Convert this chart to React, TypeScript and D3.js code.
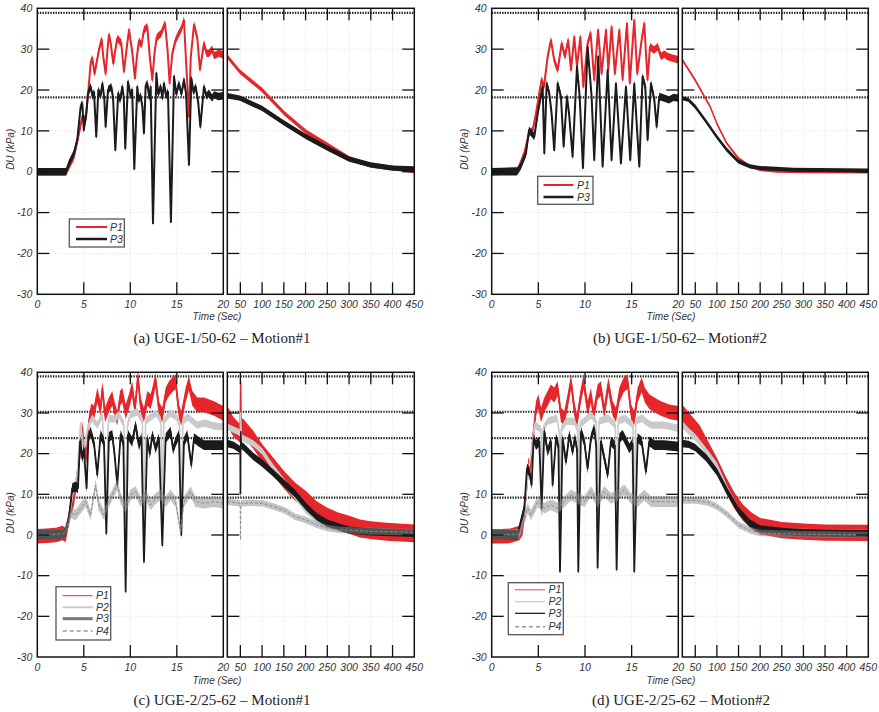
import React from "react";
import * as d3 from "d3";

type Pt = number[];

// ---------- axes / reference values ----------
const yTicks = [-30, -20, -10, 0, 10, 20, 30, 40];
const xTicksEarly = [0, 5, 10, 15, 20];
const xTicksLate = [50, 100, 150, 200, 250, 300, 350, 400, 450];
const refLinesAB = [38.9, 18.2];
const refLinesCD = [39.0, 30.3, 23.8, 9.2];

// ---------- (a) UGE-1/50-62 Motion#1 ----------
const a_P1_early: Pt[] = [[0,0],[3.1,0],[3.4,1.3],[3.94,3.7],[4.48,9.4],[4.84,13.5],[5.2,12.7],[5.56,21.7],[5.73,26.5],[5.91,27.8],[6.16,24],[6.4,27],[6.63,29.8],[6.92,32.4],[7.1,28],[7.35,24],[7.55,30],[7.71,33.5],[7.89,31.5],[8.17,26.5],[8.4,30],[8.6,32.6],[9.03,31.5],[9.32,24.5],[9.6,30],[9.86,34.7],[10.2,29.5],[10.5,22.9],[10.7,28],[10.93,32],[11.2,31],[11.47,34.7],[11.83,35.5],[12.1,28],[12.37,22.5],[12.6,29],[12.83,32.8],[13.33,33.9],[13.73,36.3],[14.0,30],[14.23,21.7],[14.52,29],[14.87,32.2],[15.23,33.9],[15.5,35],[15.77,37.1],[16.02,26],[16.31,13.5],[16.5,28],[16.85,36],[17.2,32.8],[17.49,25],[17.92,31.4],[18.2,29],[18.46,29],[18.8,30],[19,28.4],[19.53,29],[20,28.6]];
const a_P3_early: Pt[] = [[0,0],[3.1,0],[3.4,2],[3.94,4.5],[4.3,7.8],[4.66,15.9],[4.84,16.7],[5.0,10.2],[5.27,14.3],[5.45,19.2],[5.73,20.8],[5.95,18.4],[6.1,19.5],[6.34,8.6],[6.56,20],[6.8,18.5],[7.0,21.6],[7.2,18],[7.35,11],[7.6,20],[7.96,20.8],[8.15,18],[8.39,5.3],[8.7,19.2],[8.9,17.5],[9.14,20.8],[9.3,18],[9.46,5.7],[9.75,22],[10.04,18.6],[10.2,20],[10.43,0.7],[10.75,20.8],[10.9,17.5],[11.1,18.6],[11.3,16],[11.47,9.4],[11.65,21],[11.83,21.6],[12.05,18],[12.19,20.8],[12.44,-12.6],[12.8,24.1],[13.0,19],[13.26,20.8],[13.45,18],[13.62,21.6],[13.85,18.5],[14.05,19.6],[14.37,-12.3],[14.7,23.3],[14.95,19],[15.23,21.6],[15.5,19],[15.77,22.5],[16.0,19],[16.31,1.7],[16.56,22.9],[16.8,19.5],[17.03,20.8],[17.3,17],[17.53,11],[17.92,20.8],[18.2,18.5],[18.46,19.2],[18.8,18],[19,18.8],[19.5,18.4],[20,18.6]];
const a_P1_late: Pt[] = [[20,28.2],[49,24.5],[100,20],[151,14.3],[201,9.8],[250,6.6],[300,3.3],[350,1.5],[400,0.9],[450,0.2]];
const a_P3_late: Pt[] = [[20,18.6],[49,18],[100,15.5],[151,11.9],[201,8.6],[250,5.8],[300,3.1],[350,1.7],[400,0.9],[450,0.7]];

// ---------- (b) UGE-1/50-62 Motion#2 ----------
const b_P1_early: Pt[] = [[0,0],[2.8,0.3],[3.5,4.5],[4.0,9.4],[4.4,10.2],[4.75,14.3],[5.1,19.2],[5.35,22.5],[5.6,20.8],[6.0,28.2],[6.35,32.2],[6.7,27.3],[7.07,24.9],[7.5,31.4],[7.85,28.2],[8.2,32.2],[8.5,24.9],[8.85,33],[9.14,25.7],[9.5,33],[9.82,20.8],[10.28,31.4],[10.6,33.9],[10.99,22.5],[11.4,34.7],[11.78,24],[12.25,34.7],[12.5,24.9],[12.85,35.5],[13.2,24],[13.68,34.7],[14.03,22.5],[14.5,36.3],[14.8,21.7],[15.28,37.1],[15.6,24],[16.07,32.2],[16.35,36.3],[16.7,22.5],[16.97,30.6],[17.4,29.8],[17.8,30.6],[18.14,28.2],[18.5,28.8],[18.85,28.2],[19.4,27.8],[20,27.4]];
const b_P3_early: Pt[] = [[0,0],[2.7,0],[3.1,1.3],[3.67,4.5],[4.0,10.2],[4.28,9.4],[4.57,8.6],[4.93,14.3],[5.2,17.6],[5.46,20.8],[5.64,4.5],[5.89,21.6],[6.17,19.2],[6.42,14.3],[6.7,5.3],[7.07,21.6],[7.42,18.4],[7.71,6.2],[8.07,18.4],[8.3,14],[8.67,3.7],[9.14,25.7],[9.43,18.4],[9.78,0.9],[10.28,30.6],[10.71,18.4],[10.99,2.9],[11.42,28.2],[11.89,1.3],[12.43,24.9],[12.85,2.9],[13.32,21.6],[13.85,2.1],[14.39,20.8],[14.85,2.9],[15.28,21.6],[15.82,1.3],[16.17,23.3],[16.46,20.8],[16.71,7.8],[17.07,21.6],[17.43,17.6],[17.68,11],[17.96,18.4],[18.5,18],[19,17.6],[19.5,18.2],[20,18]];
const b_P1_late: Pt[] = [[20,27.4],[49.3,22.5],[84,16],[99.4,11.9],[122.5,7],[149.5,3.3],[176.4,1.3],[199.5,0.5],[238,0.1],[315,0],[450,-0.1]];
const b_P3_late: Pt[] = [[20,18],[33.9,17.6],[49.3,16],[72.4,12.7],[99.4,8.6],[122.5,5.4],[149.5,2.5],[176.4,1.3],[199.5,0.9],[276.6,0.5],[450,0.3]];

// ---------- (c) UGE-2/25-62 Motion#1 ----------
const c_P1_early: Pt[] = [[0,-0.3],[1,-0.2],[2,0],[2.7,0.5],[3.05,0],[3.6,6.6],[3.94,9],[4.3,14.8],[4.6,20.5],[4.84,26.2],[5.0,21.5],[5.3,19.5],[5.56,27.9],[5.8,30.5],[6.1,30],[6.45,34.4],[6.8,31],[7.0,36],[7.28,29.5],[7.7,32],[8.06,33.6],[8.3,31],[8.6,28.7],[8.9,33.6],[9.14,34.4],[9.5,30.3],[9.86,32.8],[10.2,36],[10.5,31],[10.82,38.9],[11.1,32],[11.47,29.5],[11.83,33.6],[12.19,32.8],[12.37,34.4],[12.72,38.1],[13.08,31],[13.44,29.5],[13.8,34.4],[14.16,36],[14.5,36.9],[14.87,37.7],[15.23,30.3],[15.48,28.7],[15.95,34.4],[16.3,37.3],[16.67,33.6],[17.2,32],[17.92,32],[19,31.1],[20,29.9]];
const c_P2_early: Pt[] = [[0,0],[2.8,0.5],[3.4,4],[3.8,10],[4.3,15],[4.66,27.5],[5.0,20.5],[5.4,26.2],[5.9,28.7],[6.45,27],[7.0,29.5],[7.2,20],[7.42,5],[7.6,26],[7.7,28.7],[8.24,28.5],[8.78,29.5],[9.32,27.2],[9.5,3],[9.7,27],[10.0,29.5],[10.75,30.3],[11.3,28],[11.47,2],[11.65,28],[12.2,29],[12.8,30],[13.3,28],[13.44,3],[13.6,28],[14.3,30],[15.0,29],[15.3,27],[15.48,4],[15.65,28],[16.2,29],[17.2,27],[18,27.5],[19,26.8],[20,26.6]];
const c_P3_early: Pt[] = [[0,0],[2.7,0.2],[3.05,0.8],[3.4,4.1],[3.76,11.5],[4.1,11.9],[4.37,11.5],[4.6,23],[4.84,18.9],[5.0,21.3],[5.3,11.5],[5.5,23.8],[5.73,25.4],[6.1,22.5],[6.45,14.8],[6.8,24.6],[7.17,22.9],[7.42,0.4],[7.7,24.1],[8.06,24.6],[8.3,20],[8.6,12.3],[8.96,24.6],[9.25,22.9],[9.5,-13.9],[9.75,24.6],[10.2,22.9],[10.57,27],[10.93,22],[11.2,24],[11.47,-6.6],[11.83,23.8],[12.1,20],[12.37,24.6],[12.72,21.3],[13.08,23.8],[13.44,-2.5],[13.8,23.8],[14.34,25.4],[14.6,21],[14.87,22.9],[15.23,24.6],[15.48,0],[15.77,22.9],[16.13,24.6],[16.56,17.2],[16.85,23.8],[17.38,22.9],[17.92,22.1],[19,22.1],[20,22.1]];
const c_P4_early: Pt[] = [[0,0],[2.8,0.3],[3.2,1.5],[3.6,5.5],[4.1,4.9],[4.66,6.6],[5.2,8.2],[5.73,4.9],[6.27,12.3],[6.6,7.4],[7.17,4.9],[7.7,8.2],[8.24,10.7],[8.6,12.3],[8.96,9],[9.5,6.6],[10.0,9.8],[10.57,10.7],[11.1,8.2],[11.65,9.8],[12.19,7.4],[12.72,9],[13.26,9.8],[13.8,8.2],[14.34,9.8],[14.87,8.2],[15.41,0.8],[15.77,8.2],[16.49,10.7],[17.0,8.2],[17.92,7.8],[19,8.2],[20,7.8]];
const c_P1_late: Pt[] = [[20,29.3,2.5],[33.8,26.6,2.4],[45.3,25.4,2.3],[49.5,25,2.3],[50.7,37.7,0.8],[52,26.5,2.3],[56.8,26.2,2.3],[79.8,23.4,2.2],[100.5,20.1,2.2],[125.8,16.8,2.2],[151,13.5,2.2],[175.6,10.7,2.2],[200.9,8.6,2.2],[225.4,6.1,2.2],[250,4.5,2.2],[275.2,3.3,2.2],[300.5,2.5,2.2],[325,1.6,2.2],[349.6,1.2,2.2],[386.4,0.8,2.2],[450,0.4,2.2]];
const c_P2_late: Pt[] = [[20,26.6],[45,25.4],[49.5,25],[50.7,30],[52,24],[79.8,22.5],[100.5,20.5],[125.8,16.5],[151,13],[175.6,9.5],[200.9,6.1],[225.4,3.8],[250,2.4],[300,1.2],[450,0.4]];
const c_P3_late: Pt[] = [[20,22.5],[33.8,22.1],[45.3,21.3],[49.5,21],[50,10.2],[50.5,10.2],[50.9,25.4],[52,22],[56.8,21.7],[79.8,19.3],[100.5,17.6],[125.8,15.2],[151,12.7],[175.6,10.2],[200.9,7],[225.4,4.5],[250,2.9],[275,2],[300.5,1.2],[349.6,0.8],[450,0.4]];
const c_P4_late: Pt[] = [[20,8.2],[49.5,7.8],[50.5,-1.2],[51.5,7.8],[79.8,7.9],[100.5,7.8],[125.8,7],[151,6.1],[175.6,4.5],[200.9,3.7],[225.4,2.5],[250,1.7],[275,1.3],[349.6,0.9],[450,0.7]];

// ---------- (d) UGE-2/25-62 Motion#2 ----------
const d_P1_early: Pt[] = [[0,-0.3],[1,-0.3],[2,-0.2],[2.96,0.5],[3.3,1.6],[3.67,9.8],[3.93,17.2],[4.14,16.4],[4.39,23],[4.75,31.1],[5.0,32.8],[5.28,29.5],[5.64,32],[6.0,33.6],[6.35,35.2],[6.7,34.4],[7.07,36],[7.42,29.5],[7.78,28.7],[8.14,32.8],[8.5,37.7],[8.85,31.1],[9.14,27.9],[9.5,33.6],[9.85,37.7],[10.28,31.1],[10.64,34.4],[10.92,29.5],[11.35,35.2],[11.7,36],[12.07,30.3],[12.5,36.9],[12.96,31.1],[13.32,29.5],[13.68,34.4],[14.14,36.9],[14.57,37.7],[14.93,30.3],[15.28,28.7],[15.64,34.4],[16.07,36.9],[16.42,34.4],[16.89,32.8],[17.43,32],[18.14,31.1],[19.03,30.3],[20,29.9]];
const d_P2_early: Pt[] = [[0,0],[3,0.5],[3.5,6],[3.9,15],[4.39,23],[4.6,27],[5.28,26],[5.35,5],[5.5,26],[6.0,28],[7.0,28.7],[7.25,25],[7.32,5],[7.45,26],[8.0,28],[8.85,27.9],[9.2,26],[9.28,5],[9.4,27],[10.64,29.5],[11.2,28],[11.35,5],[11.5,28],[12.5,28.7],[13.25,27],[13.39,5],[13.55,28],[14.3,28.7],[15.15,27],[15.28,5],[15.45,28],[16.07,28.7],[17.07,27],[18.5,27],[20,26.2]];
const d_P3_early: Pt[] = [[0,0],[2.8,0],[3.14,3.3],[3.5,6.6],[3.78,16.4],[4.03,15.6],[4.28,12.3],[4.5,23.8],[4.75,22.1],[5.1,23],[5.35,6.6],[5.64,25.4],[6.0,20.5],[6.35,23],[6.53,12.3],[6.89,23.8],[7.15,22],[7.32,-9],[7.6,23.8],[7.96,18],[8.32,24.6],[8.67,20.5],[8.92,23.8],[9.15,21],[9.28,-9],[9.57,25.4],[9.92,23],[10.28,16.4],[10.64,23.8],[10.99,26.2],[11.2,22],[11.35,-8],[11.7,23],[12.07,18.9],[12.43,14.8],[12.78,23],[13.2,22],[13.39,-8.5],[13.68,23.8],[14.03,24.6],[14.39,23],[14.75,21.3],[15.1,22.5],[15.28,-9],[15.64,23.8],[16.07,23],[16.53,15.6],[16.89,23],[17.43,22.1],[18.5,22.1],[20,21.7]];
const d_P4_early: Pt[] = [[0,0],[3,0.2],[3.3,2.5],[3.85,6.6],[4.21,4.9],[4.93,8.2],[5.64,6.6],[6.35,7.4],[7.07,6.6],[7.78,8.2],[8.5,9.8],[9.21,9],[9.92,8.2],[10.64,10.7],[11.35,8.2],[12.07,10.7],[12.78,9],[13.5,9.8],[14.21,11.1],[14.93,9],[15.64,8.2],[16.35,9.8],[17.07,8.2],[18.5,8.2],[20,8.2]];
const d_P1_late: Pt[] = [[20,30],[40,27.5],[60,25],[80,21],[100,17],[120,12.5],[140,8.5],[160,5.5],[180,3.5],[200,2.2],[250,1.2],[300,0.8],[350,0.6],[450,0.5]];
const d_P2_late: Pt[] = [[20,27],[50,24],[80,20],[100,17],[125,11],[150,6],[175,3],[200,1.5],[250,0.8],[450,0.5]];
const d_P3_late: Pt[] = [[20,22.5],[35,22.3],[50,21.5],[75,19],[100,15.5],[125,10.5],[150,6],[175,3],[200,1.5],[250,0.9],[300,0.6],[450,0.3]];
const d_P4_late: Pt[] = [[20,8.5],[50,8.5],[80,8],[100,7],[125,5],[150,2.5],[175,1.2],[200,0.5],[300,0.2],[450,0]];

// ---------- styling ----------
const RED = "#e5262b";
const BLACK = "#1b1b1b";
const LGREY = "#cacaca";
const DGREY = "#8a8a8a";
const FONT = "'Liberation Sans', Arial, sans-serif";

interface S { pts: Pt[]; color: string; w: number; s: number; dash?: string; op?: number; }
interface LegendItem { label: string; color: string; w: number; dash?: string; }
interface Cfg {
  id: string; L: number[]; R: number[]; top: number; bot: number;
  early: S[]; late: S[]; refs: number[];
  legend: { x: number; y: number; w: number; h: number; lx0: number; lx1: number; tx: number; ys: number[]; items: LegendItem[] };
  caption: string; capX: number; capY: number; duX: number; timeX: number; timeY: number; labY: number;
}

function Series({ ser, x, y, clip }: { ser: S; x: any; y: any; clip: string }) {
  const area = d3.area<Pt>().x(d => x(d[0])).y0(d => y(d[1] - (d[2] ?? ser.s))).y1(d => y(d[1] + (d[2] ?? ser.s)));
  const line = d3.line<Pt>().x(d => x(d[0])).y(d => y(d[1]));
  return (
    <g clipPath={`url(#${clip})`}>
      <path d={area(ser.pts) || ""} fill={ser.color} opacity={ser.op ?? 1} />
      <path d={line(ser.pts) || ""} fill="none" stroke={ser.color} strokeWidth={ser.w} strokeDasharray={ser.dash} strokeLinejoin="round" />
    </g>
  );
}

function Panel({ c }: { c: Cfg }) {
  const y = d3.scaleLinear().domain([-30, 40]).range([c.bot, c.top]);
  const xe = d3.scaleLinear().domain([0, 20]).range([c.L[0], c.L[1]]);
  const xl = d3.scaleLinear().domain([20, 450]).range([c.R[0], c.R[1]]);
  const TL = 12;
  const inner = yTicks.filter(v => v > -30 && v < 40);
  const sub = (x: any, x0: number, x1: number, ticks: number[], clip: string, series: S[]) => (
    <g>
      <defs>
        <clipPath id={clip}><rect x={x0} y={c.top} width={x1 - x0} height={c.bot - c.top} /></clipPath>
      </defs>
      {ticks.filter(t => x(t) > x0 + 1 && x(t) < x1 - 1).map(t => (
        <line key={"gv" + t} x1={x(t)} x2={x(t)} y1={c.top} y2={c.bot} stroke="#d4d4d4" strokeWidth={0.8} strokeDasharray="1,2" />
      ))}
      {inner.map(v => (
        <line key={"gh" + v} x1={x0} x2={x1} y1={y(v)} y2={y(v)} stroke="#d4d4d4" strokeWidth={0.8} strokeDasharray="1,2" />
      ))}
      {c.refs.map(v => (
        <line key={"r" + v} x1={x0} x2={x1} y1={y(v)} y2={y(v)} stroke="#222" strokeWidth={2.2} strokeDasharray="1.4,1.2" />
      ))}
      {series.map((s, i) => <Series key={i} ser={s} x={x} y={y} clip={clip} />)}
      {ticks.filter(t => x(t) > x0 + 1 && x(t) < x1 - 1).map(t => (
        <g key={"t" + t}>
          <line x1={x(t)} x2={x(t)} y1={c.bot} y2={c.bot - TL} stroke="#111" strokeWidth={1.3} />
          <line x1={x(t)} x2={x(t)} y1={c.top} y2={c.top + TL} stroke="#111" strokeWidth={1.3} />
        </g>
      ))}
      {inner.map(v => (
        <g key={"yt" + v}>
          <line x1={x0} x2={x0 + TL} y1={y(v)} y2={y(v)} stroke="#111" strokeWidth={1.3} />
          <line x1={x1} x2={x1 - TL} y1={y(v)} y2={y(v)} stroke="#111" strokeWidth={1.3} />
        </g>
      ))}
      <rect x={x0} y={c.top} width={x1 - x0} height={c.bot - c.top} fill="none" stroke="#111" strokeWidth={1.5} />
    </g>
  );
  const lg = c.legend;
  return (
    <g>
      {sub(xe, c.L[0], c.L[1], xTicksEarly, c.id + "e", c.early)}
      {sub(xl, c.R[0], c.R[1], xTicksLate, c.id + "l", c.late)}
      {yTicks.map(v => (
        <text key={"yl" + v} x={c.L[0] - 5} y={y(v)} dy="0.35em" textAnchor="end" fontSize={10.5} fontStyle="italic" fontFamily={FONT} fill="#333">{v}</text>
      ))}
      {xTicksEarly.map(t => (
        <text key={"xe" + t} x={xe(t)} y={c.labY} textAnchor="middle" fontSize={10.5} fontStyle="italic" fontFamily={FONT} fill="#333">{t}</text>
      ))}
      {xTicksLate.map(t => (
        <text key={"xl" + t} x={xl(t)} y={c.labY} textAnchor="middle" fontSize={10.5} fontStyle="italic" fontFamily={FONT} fill="#333">{t}</text>
      ))}
      <text x={c.timeX} y={c.timeY} textAnchor="middle" fontSize={10} fontStyle="italic" fontFamily={FONT} fill="#333">Time (Sec)</text>
      <text transform={`translate(${c.duX},${(c.top + c.bot) / 2 - 2}) rotate(-90)`} textAnchor="middle" fontSize={10} fontStyle="italic" fontFamily={FONT} fill="#333">DU (kPa)</text>
      <rect x={lg.x} y={lg.y} width={lg.w} height={lg.h} fill="#fff" stroke="#555" strokeWidth={1.3} />
      {lg.items.map((it, i) => (
        <g key={it.label}>
          <line x1={lg.lx0} x2={lg.lx1} y1={lg.ys[i]} y2={lg.ys[i]} stroke={it.color} strokeWidth={it.w} strokeDasharray={it.dash} />
          <text x={lg.tx} y={lg.ys[i]} dy="0.35em" fontSize={10.5} fontStyle="italic" fontFamily={FONT} fill="#333">{it.label}</text>
        </g>
      ))}
      <text x={c.capX} y={c.capY} textAnchor="middle" fontSize={15} fontFamily="'Liberation Serif', 'Times New Roman', serif" fill="#222">{c.caption}</text>
    </g>
  );
}

const cfgs: Cfg[] = [
  {
    id: "pa", L: [37.3, 223.3], R: [227.3, 414.3], top: 8.3, bot: 294.3, refs: refLinesAB,
    early: [
      { pts: a_P1_early, color: RED, w: 2, s: 0.9 },
      { pts: a_P3_early, color: BLACK, w: 2, s: 0.9 },
    ],
    late: [
      { pts: a_P1_late, color: RED, w: 1.5, s: 0.55 },
      { pts: a_P3_late, color: BLACK, w: 1.5, s: 0.65 },
    ],
    legend: { x: 69.3, y: 219, w: 55, h: 28, lx0: 76, lx1: 107, tx: 110, ys: [227, 239],
      items: [{ label: "P1", color: RED, w: 2 }, { label: "P3", color: BLACK, w: 2.5 }] },
    caption: "(a) UGE-1/50-62 – Motion#1", capX: 222, capY: 343, duX: 14, timeX: 217, timeY: 320, labY: 308,
  },
  {
    id: "pb", L: [491.7, 678.3], R: [682.3, 868.3], top: 8.3, bot: 294.3, refs: refLinesAB,
    early: [
      { pts: b_P1_early, color: RED, w: 2, s: 0.9 },
      { pts: b_P3_early, color: BLACK, w: 2, s: 0.9 },
    ],
    late: [
      { pts: b_P1_late, color: RED, w: 1.4, s: 0.35 },
      { pts: b_P3_late, color: BLACK, w: 1.4, s: 0.5 },
    ],
    legend: { x: 537.7, y: 176.3, w: 55.3, h: 28, lx0: 543.5, lx1: 573.5, tx: 577, ys: [185, 197],
      items: [{ label: "P1", color: RED, w: 2 }, { label: "P3", color: BLACK, w: 2.5 }] },
    caption: "(b) UGE-1/50-62– Motion#2", capX: 680, capY: 343, duX: 468, timeX: 671, timeY: 320, labY: 308,
  },
  {
    id: "pc", L: [37.3, 223.3], R: [227.3, 414.3], top: 372.3, bot: 657, refs: refLinesCD,
    early: [
      { pts: c_P1_early, color: RED, w: 1.8, s: 1.8 },
      { pts: c_P2_early, color: LGREY, w: 1.6, s: 0.9 },
      { pts: c_P3_early, color: BLACK, w: 1.8, s: 1.2 },
      { pts: c_P4_early, color: DGREY, w: 1, s: 1.3, dash: "3,2", op: 0.5 },
    ],
    late: [
      { pts: c_P1_late, color: RED, w: 1.5, s: 2.2 },
      { pts: c_P2_late, color: LGREY, w: 1.4, s: 0.8 },
      { pts: c_P3_late, color: BLACK, w: 1.5, s: 0.9 },
      { pts: c_P4_late, color: DGREY, w: 1, s: 0.8, dash: "3,2", op: 0.5 },
    ],
    legend: { x: 56, y: 586.7, w: 54.7, h: 53.3, lx0: 62.7, lx1: 92.7, tx: 96, ys: [595.7, 607.3, 618.7, 631],
      items: [
        { label: "P1", color: RED, w: 1 },
        { label: "P2", color: LGREY, w: 2 },
        { label: "P3", color: "#777", w: 3 },
        { label: "P4", color: "#999", w: 1.5, dash: "4,3" },
      ] },
    caption: "(c) UGE-2/25-62 – Motion#1", capX: 222, capY: 705, duX: 14, timeX: 217, timeY: 684, labY: 671,
  },
  {
    id: "pd", L: [491.7, 678.3], R: [682.3, 868.3], top: 372.3, bot: 657, refs: refLinesCD,
    early: [
      { pts: d_P1_early, color: RED, w: 1.8, s: 1.8 },
      { pts: d_P2_early, color: LGREY, w: 1.6, s: 0.9 },
      { pts: d_P3_early, color: BLACK, w: 1.8, s: 1.2 },
      { pts: d_P4_early, color: DGREY, w: 1, s: 1.3, dash: "3,2", op: 0.5 },
    ],
    late: [
      { pts: d_P1_late, color: RED, w: 1.5, s: 2.0 },
      { pts: d_P2_late, color: LGREY, w: 1.4, s: 0.8 },
      { pts: d_P3_late, color: BLACK, w: 1.5, s: 0.9 },
      { pts: d_P4_late, color: DGREY, w: 1, s: 0.8, dash: "3,2", op: 0.5 },
    ],
    legend: { x: 508.3, y: 582.7, w: 55, h: 52, lx0: 515, lx1: 545, tx: 548.5, ys: [589.7, 601.7, 613.3, 626.7],
      items: [
        { label: "P1", color: "#f07f7f", w: 1.5 },
        { label: "P2", color: LGREY, w: 1.2 },
        { label: "P3", color: "#111", w: 1.2 },
        { label: "P4", color: "#999", w: 1.5, dash: "4,3" },
      ] },
    caption: "(d) UGE-2/25-62 – Motion#2", capX: 681, capY: 705, duX: 468, timeX: 671, timeY: 684, labY: 671,
  },
];

export default function App() {
  return (
    <svg width={879} height={712} style={{ position: "absolute", left: 0, top: 0, background: "#fff" }}>
      <rect x={0} y={0} width={879} height={712} fill="#fff" />
      {cfgs.map(c => <Panel key={c.id} c={c} />)}
    </svg>
  );
}
